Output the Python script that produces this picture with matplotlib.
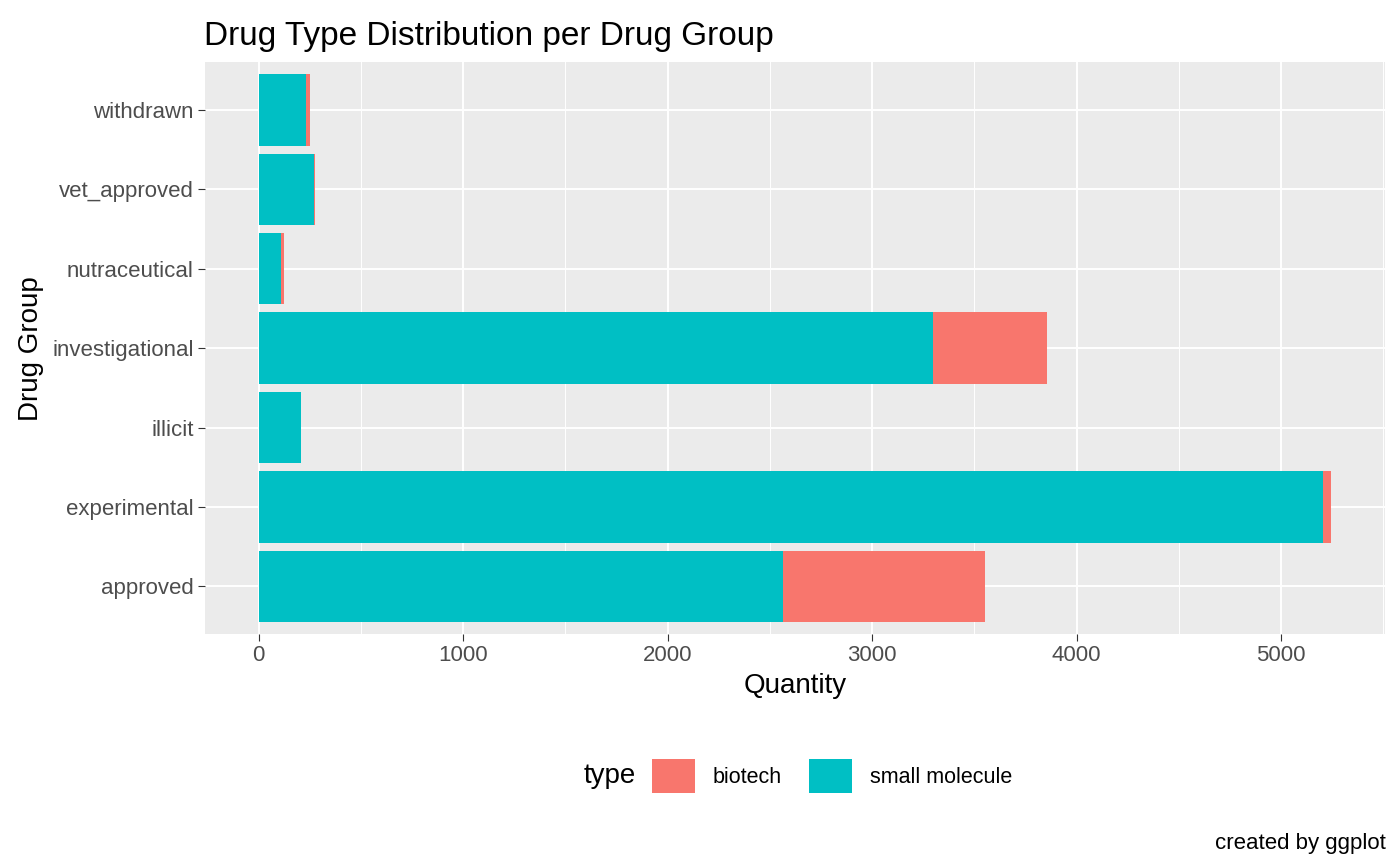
import matplotlib.pyplot as plt
import numpy as np

groups = ["approved", "experimental", "illicit", "investigational",
          "nutraceutical", "vet_approved", "withdrawn"]
small_molecule = [2566, 5205, 205, 3299, 112, 272, 230]
biotech = [987, 39, 2, 557, 10, 6, 20]

plt.rcParams["font.family"] = "Liberation Sans"

fig = plt.figure(figsize=(14, 8.65), dpi=100)
ax = fig.add_axes([0.1464, 0.267, 0.8426, 0.661])
ax.set_facecolor("#EBEBEB")

y = np.arange(len(groups))
ax.barh(y, small_molecule, height=0.9, color="#00BFC4", zorder=3, label="small molecule")
ax.barh(y, biotech, left=small_molecule, height=0.9, color="#F8766D", zorder=3, label="biotech")

total_max = max(s + b for s, b in zip(small_molecule, biotech))
pad = total_max * 0.05
ax.set_xlim(-pad, total_max + pad)
ax.set_ylim(-0.6, len(groups) - 0.4)
ax.set_xticks(np.arange(0, 5001, 1000))
ax.set_xticks(np.arange(500, 5600, 1000), minor=True)
ax.set_yticks(y)
ax.set_yticklabels(groups)
ax.grid(which="major", color="white", linewidth=1.4, zorder=0)
ax.grid(which="minor", axis="x", color="white", linewidth=0.7, zorder=0)
for s in ax.spines.values():
    s.set_visible(False)
ax.tick_params(which="major", length=5, color="#333333", labelsize=16, labelcolor="#4D4D4D", pad=3)
ax.tick_params(which="minor", length=0)

ax.set_xlabel("Quantity", fontsize=20, labelpad=5)
ax.set_ylabel("Drug Group", fontsize=20, labelpad=6)
fig.text(0.146, 0.948, "Drug Type Distribution per Drug Group", fontsize=24)
fig.text(0.99, 0.018, "created by ggplot", fontsize=16, ha="right")

h, l = ax.get_legend_handles_labels()
fig.legend(h[::-1], l[::-1], loc="center left", bbox_to_anchor=(0.458, 0.103), ncol=2,
           frameon=False, fontsize=15.5, handlelength=2.0, handleheight=2.0,
           columnspacing=1.3, handletextpad=0.8, borderpad=0)
fig.text(0.417, 0.103, "type", fontsize=20, va="center")

fig.savefig("out.png", dpi=100)
